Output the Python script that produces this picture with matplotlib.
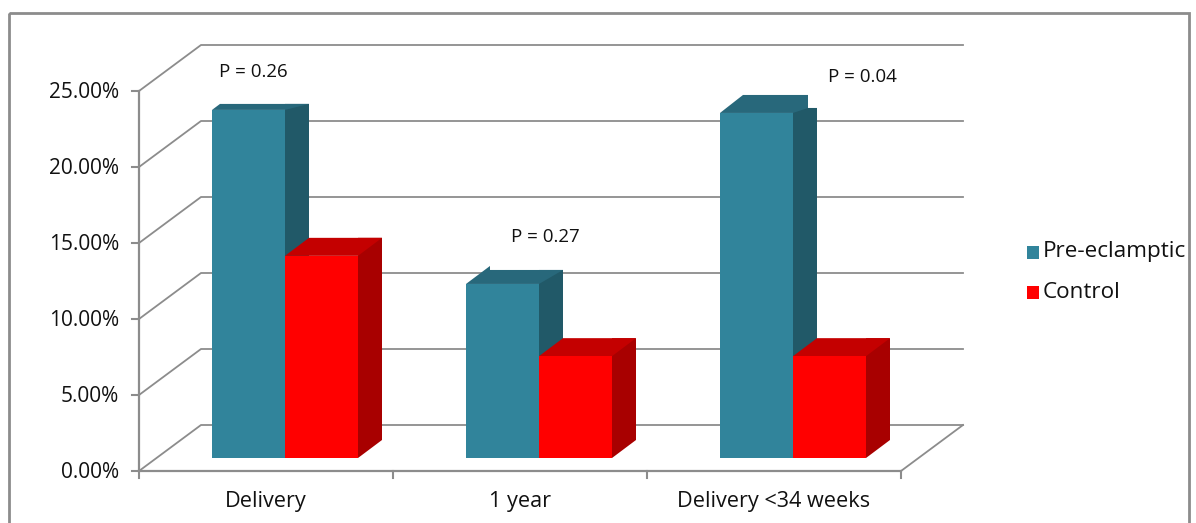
import matplotlib
matplotlib.use("Agg")
import matplotlib.pyplot as plt
from matplotlib.patches import Polygon, Rectangle

categories = ["Delivery", "1 year", "Delivery <34 weeks"]
pre_eclamptic = [22.9, 11.45, 22.7]
control = [13.3, 6.7, 6.7]
p_labels = ["P = 0.26", "P = 0.27", "P = 0.04"]
y_ticks = [0, 5, 10, 15, 20, 25]

W, H = 1196, 523
BLUE, BLUE_SIDE, BLUE_TOP = "#31849b", "#215968", "#28687b"
RED, RED_SIDE, RED_TOP = "#ff0000", "#a80000", "#c40000"
GREY = "#8c8c8c"
INK = "#111111"

plt.rcParams["font.family"] = ["Open Sans", "DejaVu Sans"]

fig = plt.figure(figsize=(W / 100, H / 100), dpi=100)
ax = fig.add_axes([0, 0, 1, 1])
ax.set_xlim(0, W)
ax.set_ylim(H, 0)
ax.axis("off")

# plot box in pixels, the floor is sheared back by dx, dy
left, right, base, px_per_unit = 139, 901, 471, 15.2
dx, dy = 62, 46
bar_lift = 13
bar_w = 73
depth_x, depth_y = 24, 18


def val_y(v):
    return base - v * px_per_unit


ax.add_patch(Rectangle((9, 13), 1180, 520, fill=False, ec=GREY, lw=2))

for v in y_ticks:
    y = val_y(v)
    ax.plot([left, left + dx, right + dx], [y, y - dy, y - dy], color=GREY, lw=1.3)
    ax.plot([left - 7, left], [y, y], color=GREY, lw=1.5)
    ax.text(119, y + 1, f"{v:.2f}%", ha="right", va="center", fontsize=15, color=INK)

ax.plot([left, left], [val_y(0), val_y(25)], color=GREY, lw=1.6)
ax.plot([left, right], [base, base], color=GREY, lw=1.6)
ax.plot([right, right + dx], [base, base - dy], color=GREY, lw=1.3)

group_w = (right - left) / 3
for i in range(4):
    x = left + i * group_w
    ax.plot([x, x], [base, base + 7], color=GREY, lw=1.5)


def bar(x, v, front, side, top, side_rise=depth_y, top_shape=None):
    # top_shape: offsets of the upper corners of the lid, from the front left corner
    y0 = base - bar_lift
    y1 = y0 - v * px_per_unit
    xr = x + bar_w
    if top_shape is None:
        top_shape = [(depth_x, -depth_y), (bar_w + depth_x, -depth_y)]
    ax.add_patch(Polygon([(xr, y0), (xr + depth_x, y0 - depth_y),
                          (xr + depth_x, y1 - side_rise), (xr, y1 - side_rise)],
                         fc=side, ec="none", zorder=3))
    lid = [(x, y1)] + [(x + a, y1 + b) for a, b in top_shape] + [(xr, y1)]
    ax.add_patch(Polygon(lid, fc=top, ec="none", zorder=3))
    ax.add_patch(Rectangle((x, y1), bar_w, y0 - y1, fc=front, ec="none", zorder=4))


# the blue bars have uneven lids
blue_lids = [
    (6, [(8, -6), (97, -6)]),
    (14, [(24, -18), (24, -14), (97, -14)]),
    (5, [(23, -18), (88, -18), (88, -5)]),
]

for i, name in enumerate(categories):
    x = left + i * group_w + 73
    side_rise, lid = blue_lids[i]
    bar(x, pre_eclamptic[i], BLUE, BLUE_SIDE, BLUE_TOP, side_rise, lid)
    bar(x + bar_w, control[i], RED, RED_SIDE, RED_TOP)
    ax.text(left + (i + 0.5) * group_w, 502, name, ha="center", va="center", fontsize=15.6, color=INK)

ax.text(253, 72, p_labels[0], ha="center", va="center", fontsize=13.5, color=INK)
ax.text(545, 237, p_labels[1], ha="center", va="center", fontsize=13.5, color=INK)
ax.text(862, 77, p_labels[2], ha="center", va="center", fontsize=13.5, color=INK)

ax.add_patch(Rectangle((1027, 246), 12, 13, fc=BLUE, ec="none"))
ax.add_patch(Rectangle((1027, 286), 12, 13, fc=RED, ec="none"))
ax.text(1043, 252, "Pre-eclamptic", ha="left", va="center", fontsize=16.2, color=INK)
ax.text(1043, 292, "Control", ha="left", va="center", fontsize=16.2, color=INK)

fig.savefig("out.png", dpi=100)
